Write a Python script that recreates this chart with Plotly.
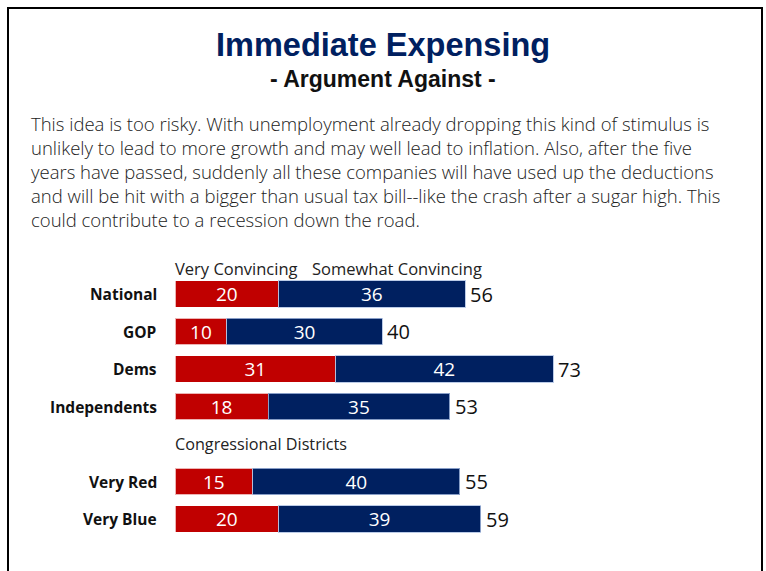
import plotly.graph_objects as go

# Survey groups (row order, top to bottom); None marks the spacer row for the section label
groups = ["National", "GOP", "Dems", "Independents", None, "Very Red", "Very Blue"]
very_convincing = [20, 10, 31, 18, None, 15, 20]
somewhat_convincing = [36, 30, 42, 35, None, 40, 39]
totals = [56, 40, 73, 53, None, 55, 59]

series_names = ["Very Convincing", "Somewhat Convincing"]
section_label = "Congressional Districts"

title = "Immediate Expensing"
subtitle = "- Argument Against -"
statement_lines = [
    "This idea is too risky. With unemployment already dropping this kind of stimulus is",
    "unlikely to lead to more growth and may well lead to inflation. Also, after the five",
    "years have passed, suddenly all these companies will have used up the deductions",
    "and will be hit with a bigger than usual tax bill--like the crash after a sugar high. This",
    "could contribute to a recession down the road.",
]

RED = "#C00000"
NAVY = "#002060"
W, H = 766, 571
BODY_FONT = "Open Sans"

rows = [i for i, g in enumerate(groups) if g is not None]
vc = [very_convincing[i] for i in rows]
sc = [somewhat_convincing[i] for i in rows]
tot = [totals[i] for i in rows]
names = [groups[i] for i in rows]

# bar scale: value 0 at x=175 px, 5.18 px per point
x0_px, px_per = 175, 5.18
x_max = 110
row_top_px, row_step = 294, 37.5
y_lo, y_hi = -0.5, len(groups) - 0.5
top_px = row_top_px + y_lo * row_step
bot_px = row_top_px + y_hi * row_step

fig = go.Figure()
for vals, name, color, edge in [
    (vc, series_names[0], RED, "rgba(255,255,255,0.7)"),
    (sc, series_names[1], NAVY, "rgba(170,190,225,0.8)"),
]:
    fig.add_trace(go.Bar(
        y=rows, x=vals, orientation="h", name=name,
        marker=dict(color=color, line=dict(color=edge, width=1)),
        text=[str(v) for v in vals], textposition="inside", insidetextanchor="middle",
        textangle=0, constraintext="none",
        textfont=dict(family=BODY_FONT, size=19, color="white"),
        width=0.7,
    ))

annotations = []
# totals to the right of each bar
for r, t in zip(rows, tot):
    annotations.append(dict(
        x=t, y=r, xref="x", yref="y", text=str(t), showarrow=False,
        xanchor="left", xshift=3, font=dict(family=BODY_FONT, size=20, color="#111111"),
    ))
# group labels to the left of the bars
for r, n in zip(rows, names):
    annotations.append(dict(
        x=0, y=r, xref="x", yref="y", text=f"<b>{n}</b>", showarrow=False,
        xanchor="right", xshift=-16, font=dict(family=BODY_FONT, size=15.5, color="#111111"),
    ))
# section label in the spacer row
spacer = groups.index(None)
annotations.append(dict(
    x=0, y=spacer, xref="x", yref="y", text=section_label, showarrow=False,
    xanchor="left", xshift=-2, font=dict(family=BODY_FONT, size=16.2, color="#222222"),
))
# series headings above the first row
head_y = 1 - 268 / H
annotations.append(dict(
    x=x0_px / W, y=head_y, xref="paper", yref="paper", text=series_names[0],
    showarrow=False, xanchor="left", yanchor="middle", xshift=-2,
    font=dict(family=BODY_FONT, size=16.5, color="#222222"),
))
annotations.append(dict(
    x=(x0_px + 26 * px_per) / W, y=head_y, xref="paper", yref="paper", text=series_names[1],
    showarrow=False, xanchor="left", yanchor="middle",
    font=dict(family=BODY_FONT, size=16.5, color="#222222"),
))
# titles
annotations.append(dict(
    x=0.5, y=1 - 45 / H, xref="paper", yref="paper", text=f"<b>{title}</b>",
    showarrow=False, xanchor="center", yanchor="middle",
    font=dict(family="Liberation Sans, Arial", size=32.5, color=NAVY),
))
annotations.append(dict(
    x=0.5, y=1 - 79 / H, xref="paper", yref="paper", text=f"<b>{subtitle}</b>",
    showarrow=False, xanchor="center", yanchor="middle",
    font=dict(family="Liberation Sans, Arial", size=23, color="#111111"),
))
# statement paragraph
annotations.append(dict(
    x=29 / W, y=1 - 109 / H, xref="paper", yref="paper", text="<br>".join(statement_lines),
    showarrow=False, xanchor="left", yanchor="top", align="left",
    font=dict(family=BODY_FONT, size=18.5, color="#222222", weight=300),
))

fig.update_layout(
    width=W, height=H,
    margin=dict(l=0, r=0, t=0, b=0),
    paper_bgcolor="white", plot_bgcolor="white",
    barmode="stack", showlegend=False,
    xaxis=dict(range=[0, x_max], domain=[x0_px / W, (x0_px + x_max * px_per) / W],
               visible=False, fixedrange=True),
    yaxis=dict(range=[y_hi, y_lo], domain=[1 - bot_px / H, 1 - top_px / H],
               visible=False, fixedrange=True),
    annotations=annotations,
    shapes=[dict(type="rect", xref="paper", yref="paper",
                 x0=8 / W, x1=762 / W, y0=-0.05, y1=1 - 8 / H,
                 line=dict(color="black", width=2), fillcolor="rgba(0,0,0,0)")],
)

fig.write_html("out.html")
